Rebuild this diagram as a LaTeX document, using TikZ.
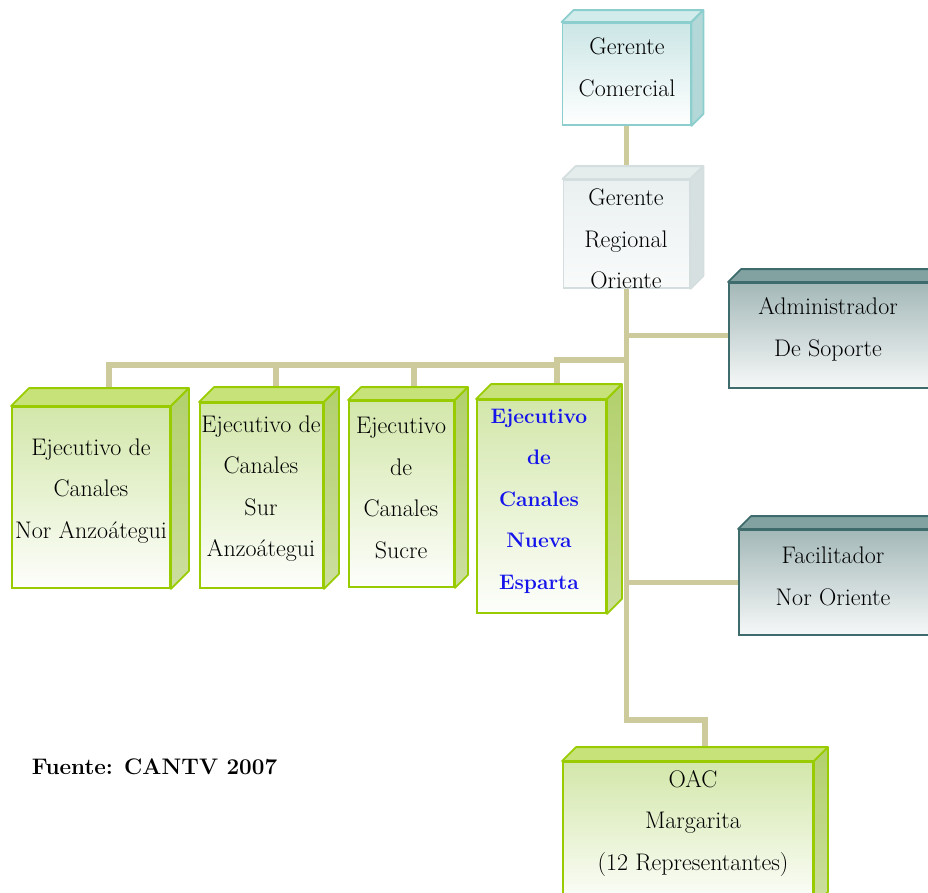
\documentclass[tikz,border=0pt]{standalone}
\usepackage{fontspec}
\usetikzlibrary{calc}

\pgfdeclarelayer{fondo}
\pgfsetlayers{fondo,main}

\definecolor{lineacolor}{RGB}{205,203,155}
\definecolor{verdeborde}{RGB}{153,204,0}
\definecolor{verdetapa}{RGB}{200,226,122}
\definecolor{verdefrente}{RGB}{211,231,170}
\definecolor{verdelado}{RGB}{178,208,108}
\definecolor{verdeladob}{RGB}{205,222,160}
\definecolor{tealborde}{RGB}{140,205,205}
\definecolor{tealfrente}{RGB}{204,230,230}
\definecolor{tealtapa}{RGB}{210,236,236}
\definecolor{teallado}{RGB}{180,216,216}
\definecolor{grisborde}{RGB}{212,222,222}
\definecolor{grisfrente}{RGB}{234,240,240}
\definecolor{gristapa}{RGB}{228,236,236}
\definecolor{grislado}{RGB}{214,224,224}
\definecolor{oscuroborde}{RGB}{62,107,107}
\definecolor{oscurofrente}{RGB}{164,184,184}
\definecolor{oscurotapa}{RGB}{130,162,162}
\definecolor{azul}{RGB}{20,20,235}

% top and side faces of a box: node, depth, top fill, side fill (top/bottom), border
\newcommand{\caras}[6]{%
  \filldraw[fill=#3, draw=#6, line width=1.8pt, line join=round]
    (#1.north west) -- ++(#2,-#2) -- ($(#1.north east)+(#2,-#2)$) -- (#1.north east) -- cycle;
  \shadedraw[top color=#4, bottom color=#5, draw=#6, line width=1.8pt, line join=round]
    (#1.north east) -- ++(#2,-#2) -- ($(#1.south east)+(#2,-#2)$) -- (#1.south east) -- cycle;
}

\begin{document}
\begin{tikzpicture}[
    x=1pt, y=-1pt,
    caja/.style={draw, line width=1.8pt, inner sep=0pt}, % front face
    verde/.style={caja, draw=verdeborde, top color=verdefrente, bottom color=white!96!verdefrente},
    teal/.style={caja, draw=tealborde, top color=tealfrente, bottom color=white},
    gris/.style={caja, draw=grisborde, top color=grisfrente, bottom color=white!70!grisfrente},
    oscuro/.style={caja, draw=oscuroborde, top color=oscurofrente, bottom color=white!90!oscurofrente},
    tam/.style 2 args={minimum width=#1, minimum height=#2},
    txt/.style={font=\fontsize{24}{41.5}\selectfont, align=center, inner sep=0pt},
    enlace/.style={draw=lineacolor, line width=5.5pt}
]
    \useasboundingbox (0,0) rectangle (928,892);
    \clip (0,0) rectangle (928,892);

    % Front faces
    \node[teal, tam={128}{102}] (gcom) at (626.5,74) {};
    \node[gris, tam={126}{108}] (greg) at (626.5,234) {};
    \node[oscuro, tam={206}{105}] (adm) at (832,335.5) {};
    \node[oscuro, tam={196}{105}] (fac) at (837,582.5) {};
    \node[verde, tam={158}{181}] (ej1) at (91,497.5) {};
    \node[verde, tam={123}{185}] (ej2) at (261.5,495.5) {};
    \node[verde, tam={105}{186}] (ej3) at (401.5,494) {};
    \node[verde, tam={129}{213}] (ej4) at (541.5,506.5) {};
    \node[verde, tam={250}{143}] (oac) at (688,833.5) {};

    % Top and side faces
    \caras{gcom}{12}{tealtapa}{teallado}{teallado}{tealborde}
    \caras{greg}{13}{gristapa}{grislado}{grislado}{grisborde}
    \caras{adm}{13}{oscurotapa}{oscurotapa}{oscurofrente}{oscuroborde}
    \caras{fac}{13}{oscurotapa}{oscurotapa}{oscurofrente}{oscuroborde}
    \caras{ej1}{18}{verdetapa}{verdelado}{verdeladob}{verdeborde}
    \caras{ej2}{15}{verdetapa}{verdelado}{verdeladob}{verdeborde}
    \caras{ej3}{13}{verdetapa}{verdelado}{verdeladob}{verdeborde}
    \caras{ej4}{15}{verdetapa}{verdelado}{verdeladob}{verdeborde}
    \caras{oac}{14}{verdetapa}{verdelado}{verdeladob}{verdeborde}

    % Connector points
    \coordinate (bus) at (626.5,360);
    \coordinate (b4) at (557,360);
    \coordinate (b4s) at (557,365);
    \coordinate (b1) at (109,365);
    \coordinate (b2) at (276,365);
    \coordinate (b3) at (414,365);
    \coordinate (codo) at (705,720);

    % Connectors
    \begin{pgfonlayer}{fondo}
        \draw[enlace] (gcom.south) -- (greg.north);
        \draw[enlace] (greg.south) |- (codo) -- (codo |- oac.north);
        \draw[enlace] (greg.south |- adm.west) -- (adm.west);
        \draw[enlace] (greg.south |- fac.west) -- (fac.west);
        \draw[enlace] (bus) -- (b4) -- (b4 |- ej4.north);
        \draw[enlace] (b4s) -- (b1) -- (b1 |- ej1.north);
        \draw[enlace] (b2) -- (b2 |- ej2.north);
        \draw[enlace] (b3) -- (b3 |- ej3.north);
    \end{pgfonlayer}

    % Texts
    \node[txt] (gcom-t) at (627,67.5) {Gerente\\Comercial};
    \begin{scope}
        \clip (greg.north west) rectangle (greg.south east);
        \node[txt] (greg-t) at (626,239) {Gerente\\Regional\\Oriente};
    \end{scope}
    \node[txt] (adm-t) at (828,329.5) {Administrador\\De Soporte};
    \node[txt] (fac-t) at (833,576.5) {Facilitador\\Nor Oriente};
    \node[txt] (ej1-t) at (91,490.7) {Ejecutivo de\\Canales\\Nor Anzoátegui};
    \node[txt] (ej2-t) at (261,488.5) {Ejecutivo de\\Canales\\Sur\\Anzoátegui};
    \node[txt] (ej3-t) at (401,488) {Ejecutivo\\de\\Canales\\Sucre};
    \node[txt, text=azul, font=\fontsize{21}{41.5}\selectfont\bfseries] (ej4-t) at (539,501) {Ejecutivo\\de\\Canales\\Nueva\\Esparta};
    \node[txt] (oac-t) at (693,823) {OAC\\Margarita\\(12 Representantes)};
    \node[txt, font=\fontsize{22.5}{30}\selectfont\bfseries] (fuente) at (154.5,767) {Fuente: CANTV 2007};

\end{tikzpicture}
\end{document}
